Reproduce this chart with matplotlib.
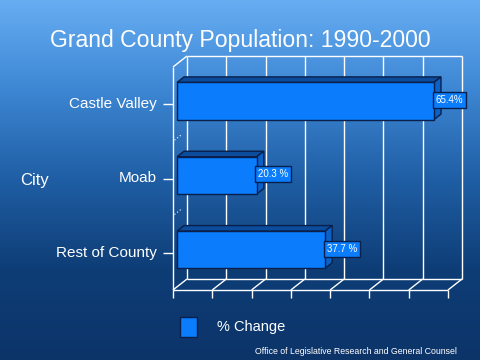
import numpy as np
import matplotlib
matplotlib.use('Agg')
import matplotlib.pyplot as plt
from matplotlib.colors import LinearSegmentedColormap

plt.rcParams['font.family'] = ['Liberation Sans', 'DejaVu Sans']

# данные
cities = ['Rest of County', 'Moab', 'Castle Valley']
pct_change = [37.7, 20.3, 65.4]
labels = ['37.7 %', '20.3 %', '65.4%']
x_max = 70
x_step = 10

W, H = 480, 360
fig = plt.figure(figsize=(W / 100, H / 100), dpi=100)

# фон - градиент
bg = fig.add_axes([0, 0, 1, 1], zorder=0)
cmap = LinearSegmentedColormap.from_list('bg', ['#0c3469', '#0e3d76', '#1f5ea4', '#3d86d3', '#66adf2'])
grad = np.linspace(0, 1, 256).reshape(-1, 1)
bg.imshow(grad, aspect='auto', cmap=cmap, extent=[0, 1, 0, 1], origin='lower')
bg.set_axis_off()

# основная ось: плоскость фронта
ax = fig.add_axes([173 / W, 1 - 290 / H, 275 / W, 223 / H], zorder=1)
ax.patch.set_alpha(0)
ax.set_xlim(0, x_max)
ax.set_ylim(-0.5, 2.5)
ax.set_axis_off()

px_x = x_max / 275.0
px_y = 3.0 / 223.0
dx = 14 * px_x
dy = 11 * px_y
lw = 1.0
gc = 'white'

def line(xs, ys, **kw):
    ax.plot(xs, ys, color=kw.pop('color', gc), lw=kw.pop('lw', lw), clip_on=False,
            solid_capstyle='butt', **kw)

ticks = np.arange(0, x_max + 1, x_step)
# задняя стенка
for t in ticks:
    line([t + dx, t + dx], [-0.5 + dy, 2.5 + dy])
line([dx, x_max + dx], [2.5 + dy, 2.5 + dy])
# пол
line([0, x_max], [-0.5, -0.5])
line([dx, x_max + dx], [-0.5 + dy, -0.5 + dy])
for t in ticks:
    line([t, t + dx], [-0.5, -0.5 + dy])
    line([t, t], [-0.5, -0.5 - 8 * px_y])
# левая стенка
line([0, 0], [-0.5, 2.5])
line([0, dx], [2.5, 2.5 + dy])
for i in range(len(cities)):
    line([-10 * px_x, 0], [i, i])
for b in [0.5, 1.5]:
    line([1.5 * px_x, dx * 0.6], [b + 1.2 * px_y, b + dy * 0.6], lw=0.8, ls=(0, (1, 2)))

# бары
bh = 0.5
f0 = 0.29
bdx = 7 * px_x
bdy = 5.5 * px_y
front = '#0a7cfc'
topc = '#0b4c9c'
side = '#0a62c8'
edge = '#0a1f4a'
for i, v in enumerate(pct_change):
    x0 = f0 * dx
    y0 = i - bh / 2 + f0 * dy
    xe = x0 + v
    ax.fill([x0, xe, xe + bdx, x0 + bdx], [y0 + bh, y0 + bh, y0 + bh + bdy, y0 + bh + bdy],
            color=topc, ec=edge, lw=1, clip_on=False, zorder=3)
    ax.fill([xe, xe + bdx, xe + bdx, xe], [y0, y0 + bdy, y0 + bh + bdy, y0 + bh],
            color=side, ec=edge, lw=1, clip_on=False, zorder=3)
    ax.fill([x0, xe, xe, x0], [y0, y0, y0 + bh, y0 + bh],
            color=front, ec=edge, lw=1, clip_on=False, zorder=4)
    ax.text(xe + 1.5 * px_x, y0 + bh / 2 + 1 * px_y, labels[i], color='white', fontsize=7,
            ha='left', va='center', zorder=5, clip_on=False,
            bbox=dict(boxstyle='square,pad=0.3', fc=front, ec=edge, lw=1))
    ax.text(-16 * px_x, i, cities[i], color='white', fontsize=11, ha='right', va='center')

# подписи
fig.text(0.5, 1 - 40 / H, 'Grand County Population: 1990-2000', color='white', fontsize=16.6,
         ha='center', va='center')
fig.text(20 / W, 1 - 180 / H, 'City', color='white', fontsize=12, ha='left', va='center')
fig.patches.append(plt.Rectangle((180 / W, 1 - 337 / H), 17 / W, 20 / H, transform=fig.transFigure,
                                 fc=front, ec=edge, lw=1, zorder=2))
fig.text(217 / W, 1 - 327 / H, '% Change', color='white', fontsize=10.5, ha='left', va='center')
fig.text(457 / W, 1 - 352 / H, 'Office of Legislative Research and General Counsel', color='white',
         fontsize=6.3, ha='right', va='center')

fig.savefig('out.png', dpi=100)
